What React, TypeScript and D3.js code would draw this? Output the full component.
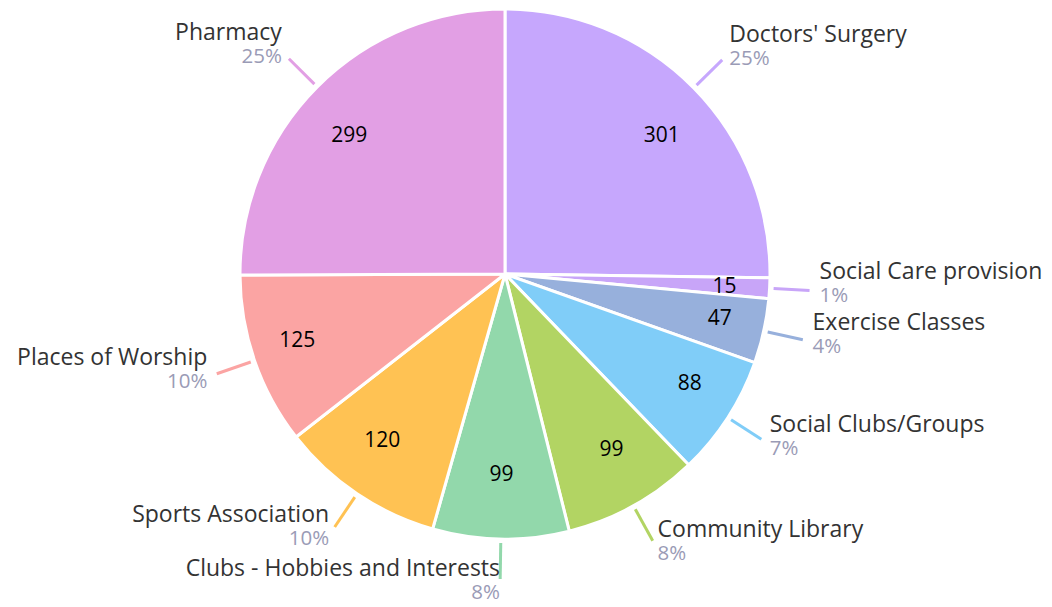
import React from "react";
import * as d3 from "d3";

const categories = [
  "Doctors' Surgery",
  "Social Care provision",
  "Exercise Classes",
  "Social Clubs/Groups",
  "Community Library",
  "Clubs - Hobbies and Interests",
  "Sports Association",
  "Places of Worship",
  "Pharmacy",
];
const values = [301, 15, 47, 88, 99, 99, 120, 125, 299];
const colors = [
  "#c6a7fd",
  "#c8a5f8",
  "#97b0dc",
  "#80cdf8",
  "#b2d463",
  "#92d8ab",
  "#ffc253",
  "#fba4a3",
  "#e29fe4",
];

const W = 1052;
const H = 607;
const cx = 505;
const cy = 274;
const R = 265;

export default function App() {
  const data = categories.map((c, i) => ({ name: c, value: values[i], color: colors[i] }));
  const total = d3.sum(values);
  const pie = d3.pie<any>().value((d) => d.value).sort(null);
  const arcs = pie(data);
  const arc = d3.arc<any>().innerRadius(0).outerRadius(R);
  const font = "'Open Sans', sans-serif";

  return (
    <svg width={W} height={H} style={{ position: "absolute", left: 0, top: 0 }}>
      <g transform={`translate(${cx},${cy})`}>
        {arcs.map((a, i) => (
          <path key={i} d={arc(a) as string} fill={a.data.color} stroke="#fff" strokeWidth={3} strokeLinejoin="round" />
        ))}
        {arcs.map((a, i) => {
          const mid = (a.startAngle + a.endAngle) / 2;
          const rx = R * 0.83;
          const ry = R * 0.75;
          return (
            <text
              key={"v" + i}
              x={rx * Math.sin(mid)}
              y={-ry * Math.cos(mid)}
              textAnchor="middle"
              dominantBaseline="central"
              fontFamily={font}
              fontSize={21}
              fill="#000"
            >
              {a.data.value}
            </text>
          );
        })}
        {arcs.map((a, i) => {
          const mid = (a.startAngle + a.endAngle) / 2;
          const s = Math.sin(mid);
          const up = Math.cos(mid);
          const c = -up;
          const r1 = R + 4;
          const r2 = R + 40;
          const x2 = r2 * s;
          const y2 = r2 * c;
          const right = s >= 0;
          const off = 10 * Math.abs(s);
          const tx = right ? x2 + off : x2 - off;
          const anchor = right ? "start" : "end";
          const nameY = y2 - 12 - 9 * up;
          const pct = Math.round((a.data.value / total) * 100) + "%";
          return (
            <g key={"l" + i}>
              <line x1={r1 * s} y1={r1 * c} x2={x2} y2={y2} stroke={a.data.color} strokeWidth={3} />
              <text x={tx} y={nameY} textAnchor={anchor} fontFamily={font} fontSize={23} fill="#333">
                {a.data.name}
              </text>
              <text x={tx} y={nameY + 23} textAnchor={anchor} fontFamily={font} fontSize={20.5} fill="#9a9bb6">
                {pct}
              </text>
            </g>
          );
        })}
      </g>
    </svg>
  );
}
